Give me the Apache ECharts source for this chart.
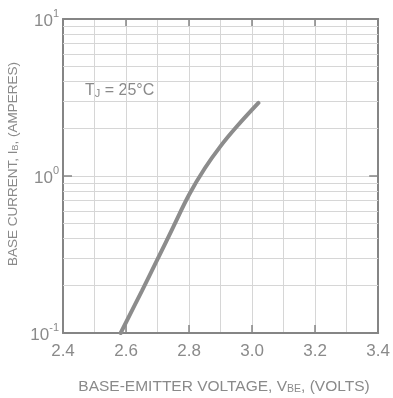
<!DOCTYPE html>
<html>
<head>
<meta charset="utf-8">
<script src="https://cdn.jsdelivr.net/npm/echarts@6/dist/echarts.min.js"></script>
<style>
html,body{margin:0;padding:0;background:#fff;}
#c{width:393px;height:398px;}
</style>
</head>
<body>
<div id="c"></div>
<script>
// Data
const vbe = [2.583, 2.65, 2.70, 2.75, 2.80, 2.85, 2.90, 2.95, 3.02];
const ib  = [0.10, 0.185, 0.295, 0.475, 0.76, 1.12, 1.55, 2.05, 2.92];
const xTicks = [2.4, 2.6, 2.8, 3.0, 3.2, 3.4];
const yDecades = [0.1, 1, 10];
const yMinorGrid = [0.2,0.3,0.4,0.5,0.6,0.7,0.8,0.9,2,3,4,5,6,7,8,9];
const annotation = 'T{sub|J} = 25°C';
const xTitle = 'BASE-EMITTER VOLTAGE, V{sub|BE}, (VOLTS)';
const yTitle = 'BASE CURRENT, I{sub|B}, (AMPERES)';

const TXT = '#8a8a8a';
const AX = '#858585';
const GRID = '#d6d6d6';
const FONT = 'Liberation Sans, Arial, sans-serif';

const chart = echarts.init(document.getElementById('c'));
const supFmt = v => {
  const e = Math.round(Math.log10(v));
  return '{b|10}{s|' + (e < 0 ? '-' + (-e) : e) + '}';
};
const xAxisBase = {
  type: 'value', min: xTicks[0], max: xTicks[xTicks.length - 1], interval: 0.2,
  axisLine: {show: true, onZero: false, lineStyle: {color: AX, width: 2}},
  axisTick: {show: true, inside: true, length: 8, lineStyle: {color: AX, width: 1.5}},
  splitLine: {show: true, lineStyle: {color: GRID, width: 1}},
  minorTick: {show: false, splitNumber: 2},
  minorSplitLine: {show: true, lineStyle: {color: GRID, width: 1}}
};
chart.setOption({
  animation: false,
  grid: {left: 63, right: 11, top: 19, bottom: 65},
  xAxis: [
    Object.assign({}, xAxisBase, {
      position: 'bottom',
      axisLabel: {color: TXT, fontSize: 17, fontFamily: FONT, margin: 10,
        formatter: v => v.toFixed(1)}
    }),
    Object.assign({}, xAxisBase, {
      position: 'top', axisLabel: {show: false},
      splitLine: {show: false}, minorSplitLine: {show: false}
    })
  ],
  yAxis: [
    {
      type: 'log', logBase: 10, min: yDecades[0], max: yDecades[2],
      axisLine: {show: true, onZero: false, lineStyle: {color: AX, width: 2}},
      axisTick: {show: true, inside: true, length: 9, lineStyle: {color: AX, width: 1.5}},
      splitLine: {show: true, lineStyle: {color: GRID, width: 1}},
      axisLabel: {
        color: TXT, fontFamily: FONT, margin: 4, formatter: supFmt,
        rich: {
          b: {fontSize: 17, color: TXT, fontFamily: FONT, lineHeight: 22, verticalAlign: 'bottom'},
          s: {fontSize: 11, color: TXT, fontFamily: FONT, lineHeight: 22, verticalAlign: 'top', padding: [0, 0, 6, 0]}
        }
      }
    },
    {
      type: 'log', logBase: 10, min: yDecades[0], max: yDecades[2], position: 'right',
      axisLine: {show: true, onZero: false, lineStyle: {color: AX, width: 2}},
      axisTick: {show: true, inside: true, length: 9, lineStyle: {color: AX, width: 1.5}},
      splitLine: {show: false},
      axisLabel: {show: false}
    }
  ],
  series: [{
    type: 'line', xAxisIndex: 0, yAxisIndex: 0,
    data: vbe.map((v, i) => [v, ib[i]]),
    smooth: 0.4, showSymbol: false, symbol: 'none', silent: true,
    lineStyle: {color: '#8c8c8c', width: 4, cap: 'round'},
    markLine: {
      silent: true, symbol: ['none', 'none'], animation: false,
      label: {show: false},
      lineStyle: {color: GRID, width: 1, type: 'solid'},
      data: yMinorGrid.map(v => ({yAxis: v}))
    },
    z: 5
  }],
  graphic: [
    {
      type: 'text', left: 85, top: 83,
      style: {text: annotation, fill: TXT, font: '16px ' + FONT,
        rich: {sub: {fontSize: 11, fill: TXT, fontFamily: FONT, verticalAlign: 'bottom', padding: [4, 0, 0, 0]}}}
    },
    {
      type: 'text', x: 224, y: 387,
      style: {text: xTitle, fill: TXT, font: '15.5px ' + FONT, align: 'center', verticalAlign: 'middle',
        rich: {sub: {fontSize: 10.5, fill: TXT, fontFamily: FONT, padding: [5, 0, 0, 0]}}}
    },
    {
      type: 'text', x: 13, y: 164, rotation: Math.PI / 2,
      style: {text: yTitle, fill: TXT, font: '13.5px ' + FONT, align: 'center', verticalAlign: 'middle',
        rich: {sub: {fontSize: 9, fill: TXT, fontFamily: FONT, padding: [5, 0, 0, 0]}}}
    }
  ]
});
</script>
</body>
</html>
